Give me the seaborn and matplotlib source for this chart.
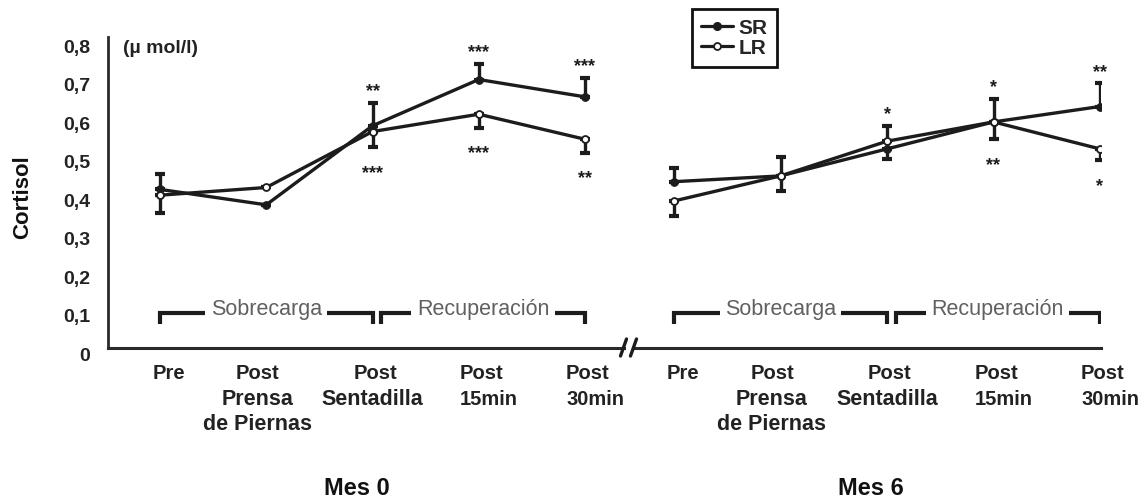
import matplotlib
matplotlib.use("Agg")
import matplotlib.pyplot as plt
from matplotlib.lines import Line2D
from matplotlib.transforms import ScaledTranslation
import seaborn as sns

# --- data -----------------------------------------------------------------
top_labels = ["Pre", "Post", "Post", "Post", "Post"]
sub_labels_1 = ["", "Prensa", "Sentadilla", "15min", "30min"]
sub_labels_2 = ["", "de Piernas", "", "", ""]

y_ticks = [0, 0.1, 0.2, 0.3, 0.4, 0.5, 0.6, 0.7, 0.8]
y_tick_labels = ["0", "0,1", "0,2", "0,3", "0,4", "0,5", "0,6", "0,7", "0,8"]

# Mes 0
mes0_sr = [0.41, 0.37, 0.575, 0.695, 0.65]
mes0_sr_err = [0.04, 0.0, 0.06, 0.04, 0.05]
mes0_lr = [0.395, 0.415, 0.56, 0.605, 0.54]
mes0_lr_err = [0.045, 0.0, 0.04, 0.035, 0.035]
mes0_sig_sr = ["", "", "**", "***", "***"]
mes0_sig_lr = ["", "", "***", "***", "**"]

# Mes 6
mes6_sr = [0.43, 0.445, 0.515, 0.585, 0.625]
mes6_sr_err = [0.035, 0.05, 0.06, 0.06, 0.06]
mes6_lr = [0.38, 0.445, 0.535, 0.585, 0.515]
mes6_lr_err = [0.04, 0.04, 0.045, 0.045, 0.03]
mes6_sig_sr = ["", "", "*", "*", "**"]
mes6_sig_lr = ["", "", "", "**", "*"]

phases = ["Sobrecarga", "Recuperación"]
panel_titles = ["Mes 0", "Mes 6"]

# --- style ----------------------------------------------------------------
sns.set_theme(style="white")
plt.rcParams["font.family"] = ["Liberation Sans", "DejaVu Sans"]

INK = "#1c1c1c"
W, H = 1146, 502
fig = plt.figure(figsize=(W / 100, H / 100), dpi=100)
fig.patch.set_facecolor("white")

y0_px, per_unit = 348.5, 385.6
ytop = 0.805
bottom = (H - y0_px) / H
height = ytop * per_unit / H

ax0 = fig.add_axes([108 / W, bottom, (624 - 108) / W, height])
ax1 = fig.add_axes([634 / W, bottom, (1101 - 634) / W, height], sharey=ax0)
ax0.set_xlim((108 - 160) / 106.25, (624 - 160) / 106.25)
ax1.set_xlim((634 - 674) / 106.5, (1101 - 674) / 106.5)
ax0.set_ylim(0, ytop)

positions = list(range(5))
panels = [
    (ax0, mes0_sr, mes0_sr_err, mes0_lr, mes0_lr_err, mes0_sig_sr, mes0_sig_lr, panel_titles[0]),
    (ax1, mes6_sr, mes6_sr_err, mes6_lr, mes6_lr_err, mes6_sig_sr, mes6_sig_lr, panel_titles[1]),
]

top_dx = [6.5, -6.0, 2.0, 2.0, 2.0]
sub_dx = [0.0, -6.5, 0.0, 7.5, 7.5]
sub_size = [15.5, 15.5, 15.5, 14.5, 14.5]

for ax, sr, sr_err, lr, lr_err, sig_sr, sig_lr, title in panels:
    ax.set_facecolor("white")
    for s in ["top", "right"]:
        ax.spines[s].set_visible(False)
    ax.spines["bottom"].set_linewidth(2.2)
    ax.spines["bottom"].set_color("#2a2a2a")
    ax.spines["left"].set_linewidth(2.0)
    ax.spines["left"].set_color("#2a2a2a")

    # error bars: SR upward, LR downward
    ax.errorbar(positions, sr, yerr=[[0] * 5, sr_err], fmt="none", ecolor=INK,
                elinewidth=2.4, capsize=3.5, capthick=3, zorder=2)
    ax.errorbar(positions, lr, yerr=[lr_err, [0] * 5], fmt="none", ecolor=INK,
                elinewidth=2.4, capsize=3.5, capthick=3, zorder=2)

    sns.lineplot(x=positions, y=sr, ax=ax, color=INK, linewidth=2.4, marker="o",
                 markersize=5.5, markerfacecolor=INK, markeredgecolor=INK, zorder=3)
    sns.lineplot(x=positions, y=lr, ax=ax, color=INK, linewidth=2.4, marker="o",
                 markersize=5, markerfacecolor="white", markeredgecolor=INK,
                 markeredgewidth=1.3, zorder=4)

    # significance marks
    for i in positions:
        if sig_sr[i]:
            ax.annotate(sig_sr[i], xy=(i, sr[i] + sr_err[i] + 0.047), xytext=(0, -7.5),
                        textcoords="offset points", ha="center", va="baseline",
                        fontsize=13, fontweight="bold", color=INK)
        if sig_lr[i]:
            ax.annotate(sig_lr[i], xy=(i, lr[i] - lr_err[i] - 0.05), xytext=(0, -7.5),
                        textcoords="offset points", ha="center", va="baseline",
                        fontsize=13, fontweight="bold", color=INK)

    # phase brackets
    for (x0, x1), name in zip([(0, 2), (2.08, 4)], phases):
        ax.plot([x0, x0, x1, x1], [0.061, 0.0895, 0.0895, 0.061], color=INK, lw=3,
                solid_joinstyle="miter", solid_capstyle="butt", zorder=2)
        ax.text((x0 + x1) / 2, 0.102, name, ha="center", va="center", fontsize=15.5,
                color="#606060", zorder=3,
                bbox=dict(boxstyle="square,pad=0.25", fc="white", ec="none"))

    # x ticks and two-level labels
    ax.set_xticks(positions)
    ax.tick_params(axis="x", direction="in", length=7.5, width=2.2, color="#2a2a2a",
                   labelbottom=False)
    for i in positions:
        ax.annotate(top_labels[i], xy=(i, 0), xytext=(top_dx[i], -18),
                    textcoords="offset points", ha="center", va="center",
                    fontsize=14.5, fontweight="bold", color="#222222")
        if sub_labels_1[i]:
            ax.annotate(sub_labels_1[i], xy=(i, 0), xytext=(sub_dx[i], -36.5),
                        textcoords="offset points", ha="center", va="center",
                        fontsize=sub_size[i], fontweight="bold", color="#222222")
        if sub_labels_2[i]:
            ax.annotate(sub_labels_2[i], xy=(i, 0), xytext=(sub_dx[i], -54.5),
                        textcoords="offset points", ha="center", va="center",
                        fontsize=sub_size[i], fontweight="bold", color="#222222")

    ax.annotate(title, xy=(1.85, 0), xytext=(0, -100.5), textcoords="offset points",
                ha="center", va="center", fontsize=17, fontweight="bold", color="#111111")

# y axis (left panel only)
ax0.set_yticks(y_ticks)
ax0.set_yticklabels(y_tick_labels)
ax0.tick_params(axis="y", direction="in", length=4, width=2, color="#2a2a2a",
                pad=13, labelsize=14, labelcolor="#222222")
for lbl in ax0.get_yticklabels():
    lbl.set_fontweight("bold")
    lbl.set_transform(lbl.get_transform() + ScaledTranslation(0, -6 / 100, fig.dpi_scale_trans))
ax1.spines["left"].set_visible(False)
ax1.tick_params(axis="y", left=False, labelleft=False)

ax0.text(-0.35, 0.777, "(µ mol/l)", ha="left", va="center", fontsize=14,
         fontweight="bold", color="#222222")
fig.text(23 / W, 1 - 197 / H, "Cortisol", rotation=90, ha="center", va="center",
         fontsize=16, fontweight="bold", color="#111111")

# axis break marks
for xc in (623.5, 633.5):
    fig.add_artist(Line2D([(xc - 3) / W, (xc + 3) / W], [1 - 357 / H, 1 - 340 / H],
                          transform=fig.transFigure, color=INK, lw=2.4))

# legend
handles = [
    Line2D([], [], color=INK, lw=2.3, marker="o", markersize=5.5,
           markerfacecolor=INK, markeredgecolor=INK),
    Line2D([], [], color=INK, lw=2.3, marker="o", markersize=5,
           markerfacecolor="white", markeredgecolor=INK, markeredgewidth=1.3),
]
leg = fig.legend(handles, ["SR", "LR"], loc="upper left",
                 bbox_to_anchor=(692 / W, 1 - 10 / H), borderaxespad=0,
                 frameon=True, fancybox=False, framealpha=1, edgecolor="#111111",
                 prop={"weight": "bold", "size": 15}, handlelength=1.5,
                 handletextpad=0.3, borderpad=0.45, labelspacing=0.05)
leg.get_frame().set_linewidth(2)

fig.savefig("out.png", dpi=100, facecolor="white")
